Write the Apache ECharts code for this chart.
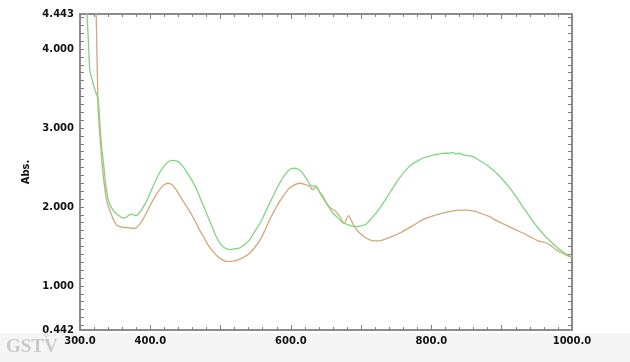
<!DOCTYPE html>
<html>
<head>
<meta charset="utf-8">
<script src="https://cdn.jsdelivr.net/npm/echarts@6/dist/echarts.min.js"></script>
<style>html,body{margin:0;padding:0;background:#fff;}#c{width:630px;height:362px;}</style>
</head>
<body>
<div id="c"></div>
<script>
// Wavelength (nm) and absorbance, green spectrum
var greenWl  = [308,310,312,314,317,320,323,326,328,329,331,333,335,337,340,343,347,352,357,361,366,370,374,378,382,388,395,402,410,418,425,432,438,445,452,459,466,473,480,487,494,500,506,513,520,527,535,541,548,556,563,570,577,584,591,598,605,612,619,627,632,636,640,646,653,660,667,674,680,686,693,700,707,714,720,726,733,740,748,755,764,772,780,788,796,804,811,818,825,830,835,840,845,852,859,866,874,882,890,898,906,914,922,930,938,945,952,958,963,970,977,984,991,998,1000];
var greenAbs = [4.70,4.44,4.08,3.73,3.62,3.52,3.44,3.35,3.10,2.95,2.74,2.59,2.42,2.25,2.10,2.02,1.96,1.91,1.88,1.86,1.87,1.90,1.91,1.89,1.90,1.97,2.08,2.22,2.38,2.50,2.57,2.59,2.58,2.53,2.44,2.34,2.22,2.07,1.92,1.77,1.62,1.53,1.48,1.46,1.47,1.48,1.53,1.58,1.68,1.79,1.92,2.05,2.18,2.30,2.40,2.47,2.49,2.47,2.40,2.29,2.26,2.27,2.20,2.11,2.01,1.92,1.86,1.80,1.78,1.76,1.75,1.76,1.78,1.85,1.91,1.98,2.07,2.17,2.28,2.37,2.47,2.54,2.58,2.62,2.64,2.66,2.67,2.68,2.68,2.69,2.67,2.68,2.66,2.65,2.64,2.60,2.56,2.51,2.45,2.38,2.30,2.21,2.11,2.00,1.90,1.81,1.73,1.67,1.62,1.56,1.50,1.45,1.41,1.37,1.36];

// Tan spectrum
var tanWl  = [321,323,324,325,326,327,329,331,333,335.5,338,341,344,348,352,357,362,368,373,378,383,390,397,404,411,418,425,431,438,445,452,459,465,470,476,482,489,495,501,508,515,521,527,534,541,548,556,563,570,577,584,591,598,605,612,619,627,631,634,636,640,646,650,655,659,663,667,671,676,679,682,685,688,693,698,705,711,717,725,736,745,755,765,775,788,800,811,825,840,850,859,870,882,894,906,918,930,943,952,956,962,970,977,985,992,1000];
var tanAbs = [4.90,4.44,4.00,3.55,3.20,3.06,2.82,2.59,2.40,2.22,2.08,1.99,1.92,1.83,1.77,1.75,1.74,1.74,1.73,1.73,1.76,1.85,1.97,2.09,2.19,2.27,2.30,2.28,2.20,2.10,2.00,1.90,1.80,1.71,1.62,1.52,1.44,1.38,1.34,1.31,1.31,1.32,1.34,1.37,1.41,1.48,1.58,1.70,1.84,1.96,2.07,2.16,2.24,2.28,2.30,2.29,2.26,2.22,2.24,2.25,2.20,2.13,2.06,2.00,1.97,1.95,1.91,1.86,1.79,1.84,1.89,1.85,1.79,1.72,1.67,1.62,1.59,1.57,1.57,1.60,1.63,1.67,1.72,1.77,1.84,1.88,1.91,1.94,1.96,1.96,1.95,1.92,1.88,1.82,1.77,1.72,1.67,1.61,1.57,1.56,1.55,1.51,1.46,1.42,1.39,1.36];

// Axis ticks / labels
var xLabels = [300, 400, 600, 800, 1000];
var yLabels = [0.442, 1, 2, 3, 4, 4.443];
var yTicks = [0.5,0.6,0.7,0.8,0.9,1.0,1.1,1.2,1.3,1.4,1.5,1.6,1.7,1.8,1.9,2.0,2.1,2.2,2.3,2.4,2.5,2.6,2.7,2.8,2.9,3.0,3.1,3.2,3.3,3.4,3.5,3.6,3.7,3.8,3.9,4.0,4.1,4.2,4.3,4.4];
var xMin = 300, xMax = 1000, xStep = 100, xMinorSplit = 5, yMin = 0.442, yMax = 4.443;

function zip(a, b) { return a.map(function (v, i) { return [v, b[i]]; }); }

var AX = '#8c8c8c';
var TK = '#808080';
var labelFont = { color: '#111', fontFamily: 'DejaVu Sans', fontWeight: 'bold', fontSize: 10 };

function xAxisDef(pos, withLabels) {
  return {
    type: 'value', position: pos, min: xMin, max: xMax, interval: xStep,
    axisLine: { show: true, onZero: false, lineStyle: { color: AX, width: 2 } },
    axisTick: { show: true, inside: true, interval: 0, length: 5, lineStyle: { color: TK, width: 1 } },
    minorTick: { show: true, splitNumber: xMinorSplit, length: 3, lineStyle: { color: TK, width: 1 } },
    axisLabel: withLabels ? Object.assign({ show: true, margin: 6, customValues: xLabels,
      formatter: function (v) { return v.toFixed(1); } }, labelFont) : { show: false },
    splitLine: { show: false }
  };
}
function yAxisDef(pos, withLabels) {
  var o = {
    type: 'value', position: pos, min: yMin, max: yMax,
    axisLine: { show: true, onZero: false, lineStyle: { color: AX, width: 2 } },
    axisTick: { show: true, inside: true, interval: 0, length: 4, customValues: yTicks, lineStyle: { color: TK, width: 1 } },
    axisLabel: withLabels ? Object.assign({ show: true, margin: 6, customValues: yLabels,
      formatter: function (v) { return v.toFixed(3); } }, labelFont) : { show: false },
    splitLine: { show: false }
  };
  if (withLabels) {
    o.name = 'Abs.'; o.nameLocation = 'middle'; o.nameRotate = 90; o.nameGap = 47;
    o.nameTextStyle = { color: '#111', fontFamily: 'DejaVu Sans', fontWeight: 'bold', fontSize: 10 };
  }
  return o;
}

var chart = echarts.init(document.getElementById('c'), null, { renderer: 'canvas' });
chart.setOption({
  animation: false,
  backgroundColor: '#ffffff',
  grid: { left: 80, top: 14, right: 58, bottom: 32, containLabel: false },
  graphic: [
    { type: 'rect', z: -10, shape: { x: 0, y: 333, width: 630, height: 29 }, style: { fill: '#f5f5f5' }, silent: true },
    { type: 'text', z: 100, left: 6, top: 338, style: { text: 'GSTV', fill: '#c9c9c9', font: 'bold 19px "Liberation Serif"' } },
    { type: 'text', z: 100, left: 42, top: 331, style: { text: '\u2727', fill: '#c9c9c9', font: '10px "DejaVu Sans"' } }
  ],
  xAxis: [ xAxisDef('bottom', true), xAxisDef('top', false) ],
  yAxis: [ yAxisDef('left', true), yAxisDef('right', false) ],
  series: [
    { type: 'line', name: 'tan', data: zip(tanWl, tanAbs), showSymbol: false, symbol: 'none', clip: true, smooth: 0.3,
      lineStyle: { color: '#d2a97a', width: 1.3 }, xAxisIndex: 0, yAxisIndex: 0 },
    { type: 'line', name: 'green', data: zip(greenWl, greenAbs), showSymbol: false, symbol: 'none', clip: true, smooth: 0.3,
      lineStyle: { color: '#80d680', width: 1.3 }, xAxisIndex: 0, yAxisIndex: 0 }
  ]
});
</script>
</body>
</html>
